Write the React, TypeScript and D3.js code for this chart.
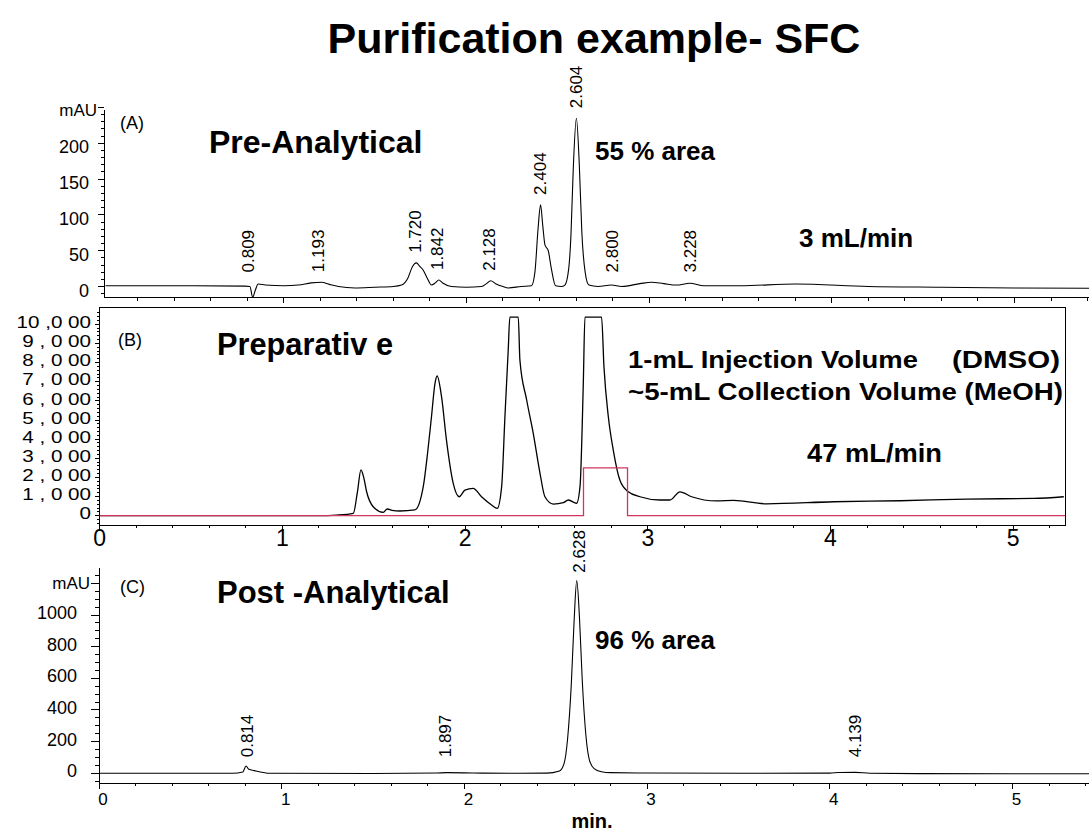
import React from 'react';
import * as d3 from 'd3';

const W = 1089;
const H = 832;
const FONT = '"Liberation Sans", Arial, Helvetica, sans-serif';

// (A) pre-analytical trace, [min, mAU]
const traceA: [number, number][] = [
  [0.025, 1], [0.5, 1], [0.79, 0.5], [0.815, 0], [0.83, -15], [0.845, -5], [0.86, 3.5], [0.9, 2],
  [1.0, 1], [1.08, 2], [1.15, 5], [1.207, 6], [1.25, 3], [1.3, 0], [1.39, -2], [1.5, -1], [1.6, 0],
  [1.645, 2], [1.68, 12], [1.705, 28], [1.726, 33], [1.745, 28], [1.763, 23], [1.785, 12], [1.809, 2],
  [1.83, 5], [1.849, 9], [1.87, 5], [1.918, 0], [2.0, -1], [2.083, 0], [2.11, 4], [2.133, 8], [2.16, 4],
  [2.2, 0], [2.229, -2], [2.3, 0], [2.356, 1], [2.375, 20], [2.392, 80], [2.406, 114], [2.418, 85],
  [2.43, 58], [2.448, 50], [2.465, 25], [2.488, 1], [2.52, 0], [2.539, 2], [2.56, 25], [2.572, 70],
  [2.585, 165], [2.602, 235], [2.618, 170], [2.632, 75], [2.65, 20], [2.67, 2], [2.72, 0], [2.794, 2],
  [2.85, 0], [2.95, 4], [3.013, 6], [3.08, 4], [3.15, 2], [3.223, 4.5], [3.3, 1], [3.5, 1], [3.8, 3.5],
  [4.2, 0], [4.6, -1], [5.0, -2], [5.41, -2.5],
];
const peaksA = [
  { t: 0.809, apex: 4 }, { t: 1.193, apex: 6 }, { t: 1.72, apex: 33 }, { t: 1.842, apex: 9 },
  { t: 2.128, apex: 8 }, { t: 2.404, apex: 114 }, { t: 2.604, apex: 235 }, { t: 2.8, apex: 2 },
  { t: 3.228, apex: 4.5 },
];
const yLabelsA = [0, 50, 100, 150, 200];

// (B) preparative trace
const traceB: [number, number][] = [
  [0, 0], [1.2, 0], [1.297, 30], [1.388, 120], [1.41, 1200], [1.43, 2390], [1.445, 2000], [1.461, 1250],
  [1.497, 470], [1.552, 175], [1.574, 350], [1.6, 280], [1.643, 245], [1.725, 300], [1.771, 1520],
  [1.795, 3300], [1.816, 5170], [1.835, 6900], [1.847, 7300], [1.871, 6220], [1.898, 3950], [1.935, 1690],
  [1.968, 990], [1.999, 1340], [2.044, 1430], [2.09, 990], [2.145, 560], [2.176, 385], [2.2, 1520],
  [2.218, 5170], [2.236, 8660], [2.245, 10370], [2.291, 10370], [2.3, 8130], [2.337, 6045], [2.373, 4300],
  [2.41, 2215], [2.437, 990], [2.483, 610], [2.538, 680], [2.565, 820], [2.61, 650], [2.629, 1520],
  [2.647, 6920], [2.656, 10370], [2.747, 10370], [2.76, 7790], [2.784, 5170], [2.811, 3430], [2.847, 1865],
  [2.893, 1250], [2.957, 990], [3.066, 820], [3.121, 820], [3.176, 1250], [3.24, 990], [3.377, 770],
  [3.47, 800], [3.652, 620], [4.017, 730], [4.382, 780], [4.747, 870], [5.112, 900], [5.277, 990],
];
// fraction collector signal
const collectB: [number, number][] = [
  [0, 0], [2.648, 0], [2.648, 2500], [2.889, 2500], [2.889, 0], [5.285, 0],
];
const yLabelsB = ['0', '1 , 0 00', '2 , 0 00', '3 , 0 00', '4 , 0 00', '5 , 0 00', '6 , 0 00', '7 , 0 00', '8 , 0 00', '9 , 0 00', '10 ,0 00'];

// (C) post-analytical trace
const traceC: [number, number][] = [
  [0, 0], [0.5, 0], [0.732, 0], [0.787, 8], [0.805, 46], [0.82, 25], [0.85, 17], [0.9, 5], [0.932, 0],
  [1.5, -1], [1.85, 2], [1.9, 4], [2.0, 3], [2.1, 1], [2.3, 0], [2.45, 1], [2.52, 15], [2.545, 60],
  [2.565, 220], [2.585, 560], [2.6, 950], [2.615, 1217], [2.63, 980], [2.645, 590], [2.665, 240],
  [2.685, 80], [2.71, 30], [2.75, 10], [2.8, 4], [3.0, 2], [3.5, 0], [4.0, 1], [4.05, 5], [4.14, 6],
  [4.22, 0], [4.5, -2], [5.0, -3], [5.45, -3],
];
const peaksC = [
  { t: 0.814, apex: 46 }, { t: 1.897, apex: 4 }, { t: 2.628, apex: 1217 }, { t: 4.139, apex: 6 },
];
const yLabelsC = [0, 200, 400, 600, 800, 1000];
const xLabels = [0, 1, 2, 3, 4, 5];

const PX_PER_MIN = 182.7;

export default function App() {
  // scales
  const xA = d3.scaleLinear().domain([0, 5]).range([101, 101 + 5 * PX_PER_MIN]);
  const yA = d3.scaleLinear().domain([0, 200]).range([286.5, 143.3]);
  const xB = d3.scaleLinear().domain([0, 5]).range([99.7, 99.7 + 5 * PX_PER_MIN]);
  const yB = d3.scaleLinear().domain([0, 10000]).range([515.7, 324.3]);
  const xC = d3.scaleLinear().domain([0, 5]).range([99, 99 + 5 * PX_PER_MIN]);
  const yC = d3.scaleLinear().domain([0, 1000]).range([773.3, 615]);

  // smooth the chromatogram traces, keep the collector signal stepped
  const lineA = d3.line<[number, number]>().x(d => xA(d[0])).y(d => yA(d[1])).curve(d3.curveMonotoneX);
  const lineB = d3.line<[number, number]>().x(d => xB(d[0])).y(d => yB(d[1])).curve(d3.curveMonotoneX);
  const stepB = d3.line<[number, number]>().x(d => xB(d[0])).y(d => yB(d[1]));
  const lineC = d3.line<[number, number]>().x(d => xC(d[0])).y(d => yC(d[1])).curve(d3.curveMonotoneX);

  const axisA = { x: 104, top: 110, bottom: 298 };
  const axisC = { x: 99, top: 568, bottom: 784 };
  const boxB = { left: 99.7, right: 1065.7, top: 307.3, bottom: 525 };

  const ax = { stroke: '#000', strokeWidth: 1, shapeRendering: 'crispEdges' as const };

  const isMajor = (v: number, step: number) => Math.abs(v / step - Math.round(v / step)) < 1e-6;

  return (
    <div style={{ position: 'absolute', left: 0, top: 0 }}>
      <svg width={W} height={H} style={{ display: 'block', fontFamily: FONT }}>
        <rect width={W} height={H} fill="#fff" />

        {/* title */}
        <text x={594} y={53} textAnchor="middle" fontSize={43} fontWeight="bold">Purification example- SFC</text>

        {/* ---------- (A) ---------- */}
        <g>
          <line x1={axisA.x} x2={axisA.x} y1={axisA.top} y2={axisA.bottom} {...ax} />
          <line x1={axisA.x} x2={W} y1={297.5} y2={297.5} {...ax} />
          {d3.range(-10, 250, 10).map(v => (
            <line key={'ya' + v} x1={axisA.x - (isMajor(v, 50) ? 6 : 3.5)} x2={axisA.x} y1={yA(v)} y2={yA(v)} {...ax} />
          ))}
          <line x1={axisA.x - 6} x2={axisA.x} y1={yA(250)} y2={yA(250)} {...ax} />
          {yLabelsA.map(v => (
            <text key={'yla' + v} x={89} y={yA(v) + 4} textAnchor="end" dominantBaseline="central" fontSize={18}>{v}</text>
          ))}
          <text x={97} y={yA(250) + 3} textAnchor="end" dominantBaseline="central" fontSize={17}>mAU</text>
          {d3.range(0.2, 5.41, 0.2).filter(t => xA(t) > axisA.x + 1).map(t => (
            <line key={'xa' + t} x1={xA(t)} x2={xA(t)} y1={297.5} y2={297.5 + (isMajor(t, 1) ? 5 : 3)} {...ax} />
          ))}
          <path d={lineA(traceA) || ''} fill="none" stroke="#000" strokeWidth={1.1} />
          {peaksA.map(p => {
            const yb = Math.min(yA(p.apex) - 10, yA(0) - 14);
            return (
              <text key={'pa' + p.t} transform={`translate(${xA(p.t)},${yb}) rotate(-90)`} textAnchor="start"
                dominantBaseline="central" fontSize={17}>{p.t.toFixed(3)}</text>
            );
          })}
          <text x={120} y={129} fontSize={18}>(A)</text>
          <text x={209} y={153} fontSize={32} fontWeight="bold">Pre-Analytical</text>
          <text x={595} y={160} fontSize={26} fontWeight="bold">55 % area</text>
          <text x={799} y={247} fontSize={26} fontWeight="bold">3 mL/min</text>
        </g>

        {/* ---------- (B) ---------- */}
        <g>
          <rect x={boxB.left} y={boxB.top} width={boxB.right - boxB.left} height={boxB.bottom - boxB.top}
            fill="none" stroke="#000" strokeWidth={1} shapeRendering="crispEdges" />
          {d3.range(-400, 10800, 200).map(v => (
            <line key={'yb' + v} x1={boxB.left - (isMajor(v, 1000) ? 5 : 3)} x2={boxB.left} y1={yB(v)} y2={yB(v)} {...ax} />
          ))}
          {yLabelsB.map((s, i) => (
            <text key={'ylb' + i} transform={`translate(91,${yB(i * 1000) - 2}) scale(1.25,1)`} textAnchor="end"
              dominantBaseline="central" fontSize={16.5}>{s}</text>
          ))}
          {d3.range(0, 5.3, 0.2).map(t => (
            <line key={'xb' + t} x1={xB(t)} x2={xB(t)} y1={boxB.bottom} y2={boxB.bottom + (isMajor(t, 1) ? 6 : 3)} {...ax} />
          ))}
          {xLabels.map(t => (
            <text key={'xlb' + t} x={xB(t)} y={546} textAnchor="middle" fontSize={23}>{t}</text>
          ))}
          <path d={lineB(traceB) || ''} fill="none" stroke="#000" strokeWidth={1.3} />
          <path d={stepB(collectB) || ''} fill="none" stroke="#d3345f" strokeWidth={1.3} />
          <text x={118} y={346} fontSize={18}>(B)</text>
          <text x={217} y={355} fontSize={32} fontWeight="bold" textLength={176} lengthAdjust="spacingAndGlyphs">Preparativ e</text>
          <text x={628} y={368} fontSize={23} fontWeight="bold" textLength={290} lengthAdjust="spacingAndGlyphs">1-mL Injection Volume</text>
          <text x={952} y={368} fontSize={23} fontWeight="bold" textLength={108} lengthAdjust="spacingAndGlyphs">(DMSO)</text>
          <text x={628} y={400} fontSize={23} fontWeight="bold" textLength={435} lengthAdjust="spacingAndGlyphs">~5-mL Collection Volume (MeOH)</text>
          <text x={807} y={462} fontSize={26} fontWeight="bold" textLength={135} lengthAdjust="spacingAndGlyphs">47 mL/min</text>
        </g>

        {/* ---------- (C) ---------- */}
        <g>
          <line x1={axisC.x} x2={axisC.x} y1={axisC.top} y2={axisC.bottom} {...ax} />
          <line x1={axisC.x} x2={W} y1={783.3} y2={783.3} {...ax} />
          {d3.range(-50, 1300, 50).map(v => (
            <line key={'yc' + v} x1={axisC.x - (isMajor(v, 200) ? 8 : 4)} x2={axisC.x} y1={yC(v)} y2={yC(v)} {...ax} />
          ))}
          {yLabelsC.map(v => (
            <text key={'ylc' + v} x={77} y={yC(v) - 2} textAnchor="end" dominantBaseline="central" fontSize={18}>{v}</text>
          ))}
          <text x={90} y={yC(1200)} textAnchor="end" dominantBaseline="central" fontSize={17}>mAU</text>
          {d3.range(0, 5.45, 0.2).map(t => (
            <line key={'xc' + t} x1={xC(t)} x2={xC(t)} y1={783.3} y2={783.3 + (isMajor(t, 1) ? 6 : 3)} {...ax} />
          ))}
          {xLabels.map(t => (
            <text key={'xlc' + t} x={xC(t) + 4} y={805} textAnchor="middle" fontSize={17}>{t}</text>
          ))}
          <text x={592} y={828} textAnchor="middle" fontSize={20} fontWeight="bold">min.</text>
          <path d={lineC(traceC) || ''} fill="none" stroke="#000" strokeWidth={1.1} />
          {peaksC.map(p => {
            const yb = Math.min(yC(p.apex) - 8, yC(0) - 16);
            return (
              <text key={'pc' + p.t} transform={`translate(${xC(p.t)},${yb}) rotate(-90)`} textAnchor="start"
                dominantBaseline="central" fontSize={17}>{p.t.toFixed(3)}</text>
            );
          })}
          <text x={120} y={593} fontSize={18}>(C)</text>
          <text x={217} y={603} fontSize={31} fontWeight="bold">Post -Analytical</text>
          <text x={595} y={649} fontSize={26} fontWeight="bold">96 % area</text>
        </g>
      </svg>
    </div>
  );
}
